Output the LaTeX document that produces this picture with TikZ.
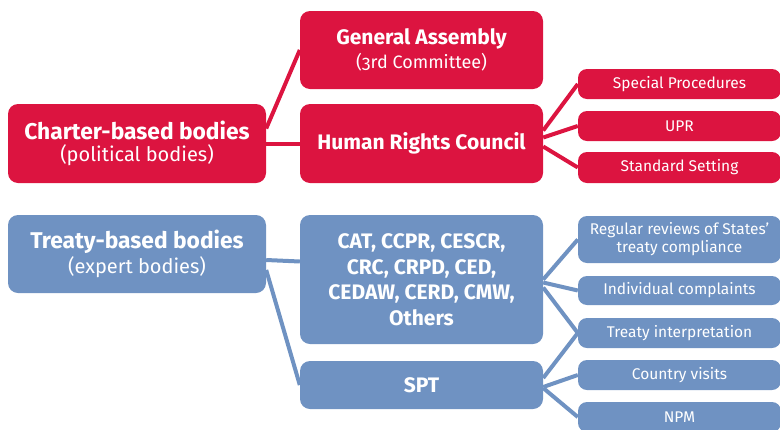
\documentclass[tikz,border=0pt]{standalone}
\usepackage{fontspec}
\setmainfont{Fira Sans}[Numbers=OldStyle]
\usetikzlibrary{backgrounds}
\definecolor{charterred}{RGB}{220,20,64}
\definecolor{treatyblue}{RGB}{111,146,194}

\newcommand\titlesize{\fontsize{22.8}{26}\selectfont\bfseries}
\newcommand\subsize{\fontsize{20}{26}\selectfont\mdseries}
\newcommand\namesize{\fontsize{21}{25.5}\selectfont\bfseries}

\tikzset{
  body/.style={rectangle, rounded corners=10pt, text=white, align=center, inner sep=0pt},
  task/.style={body, rounded corners=9pt, minimum width=203pt, minimum height=30pt,
    font=\fontsize{15.5}{18}\selectfont},
  link/.style={line width=4pt},
}

\begin{document}
\begin{tikzpicture}[x=1pt,y=-1pt]
  \useasboundingbox (0,0) rectangle (780,429);

  % charter-based side
  \node[body,fill=charterred,minimum width=258pt,minimum height=79pt] (charter) at (137,143.5)
    {\titlesize Charter-based bodies\\[4pt]\subsize (political bodies)};
  \node[body,fill=charterred,minimum width=243pt,minimum height=78pt] (ga) at (421.5,50)
    {\namesize General Assembly\\[3pt]\fontsize{18}{23}\selectfont\mdseries (3rd Committee)};
  \node[body,fill=charterred,minimum width=243pt,minimum height=79pt,font=\namesize] (hrc) at (421.5,143.5)
    {Human Rights Council};
  \node[task,fill=charterred] (sp) at (679.5,84) {Special Procedures};
  \node[task,fill=charterred] (upr) at (679.5,126) {UPR};
  \node[task,fill=charterred,minimum height=31pt] (setting) at (679.5,167.5) {Standard Setting};

  % treaty-based side
  \node[body,fill=treatyblue,minimum width=258pt,minimum height=78pt] (treaty) at (137,254)
    {\titlesize Treaty-based bodies\\[2pt]\subsize (expert bodies)};
  \node[body,fill=treatyblue,minimum width=243pt,minimum height=129pt,font=\namesize] (cat) at (421.5,279.5)
    {CAT, CCPR, CESCR,\\CRC, CRPD, CED,\\CEDAW, CERD, CMW,\\Others};
  \node[body,fill=treatyblue,minimum width=243pt,minimum height=48pt,font=\namesize] (spt) at (421.5,385)
    {SPT};
  \node[task,fill=treatyblue,minimum height=47pt] (reviews) at (679.5,239.5)
    {Regular reviews of States'\\treaty compliance};
  \node[task,fill=treatyblue,minimum height=29pt] (complaints) at (679.5,290.5) {Individual complaints};
  \node[task,fill=treatyblue] (interp) at (679.5,333) {Treaty interpretation};
  \node[task,fill=treatyblue] (visits) at (679.5,375) {Country visits};
  \node[task,fill=treatyblue] (npm) at (679.5,417) {NPM};

  % connectors, kept under the boxes
  \begin{scope}[on background layer]
  \begin{scope}[link,charterred]
    \draw ([yshift=15pt]charter.east) -- (ga.west);
    \draw (charter.east) -- (hrc.west);
    \draw ([yshift=13pt]hrc.east) -- (sp.west);
    \draw ([yshift=6pt]hrc.east) -- (upr.west);
    \draw ([yshift=-3pt]hrc.east) -- (setting.west);
  \end{scope}
  \begin{scope}[link,treatyblue]
    \draw ([yshift=-6pt]treaty.east) -- ([yshift=18pt]cat.west);
    \draw ([yshift=-16pt]treaty.east) -- (spt.west);
    \draw (cat.east) -- (reviews.west);
    \draw ([yshift=-3pt]cat.east) -- (complaints.west);
    \draw ([yshift=-8pt]cat.east) -- (interp.west);
    \draw ([yshift=7pt]spt.east) -- (interp.west);
    \draw ([yshift=-2pt]spt.east) -- (visits.west);
    \draw ([yshift=-3pt]spt.east) -- (npm.west);
  \end{scope}
  \end{scope}
\end{tikzpicture}
\end{document}
